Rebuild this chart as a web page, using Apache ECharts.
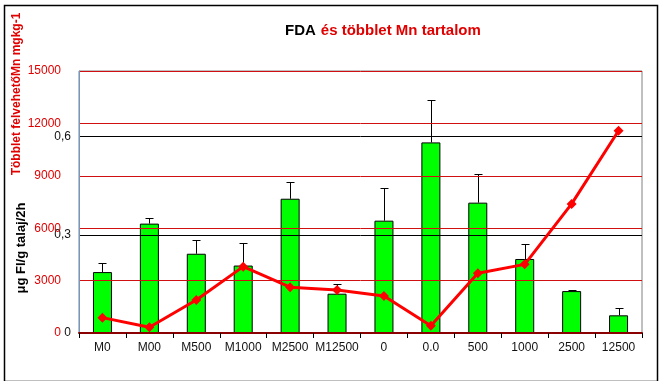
<!DOCTYPE html>
<html>
<head>
<meta charset="utf-8">
<script src="https://cdn.jsdelivr.net/npm/echarts@6/dist/echarts.min.js"></script>
<style>
html,body{margin:0;padding:0;background:#fff;}
#chart{width:660px;height:381px;}
</style>
</head>
<body>
<div id="chart"></div>
<script>
var categories = ['M0','M00','M500','M1000','M2500','M12500','0','0.0','500','1000','2500','12500'];
var fdaValues = [0.186,0.334,0.242,0.206,0.410,0.120,0.343,0.582,0.398,0.226,0.128,0.054];
var fdaErrors = [0.028,0.018,0.043,0.069,0.050,0.029,0.101,0.129,0.088,0.046,0.003,0.022];
var mnValues = [880,330,1890,3800,2620,2460,2120,420,3420,3930,7390,11580];
var mnTicks = [0,3000,6000,9000,12000,15000];
var fdaTicks = [0,0.3,0.6];

var FONT = '"Liberation Sans", Arial, sans-serif';
var chart = echarts.init(document.getElementById('chart'), null, {renderer:'canvas'});

var errData = fdaValues.map(function(v,i){ return [i, v, v + fdaErrors[i]]; });

var option = {
  animation: false,
  backgroundColor: '#ffffff',
  textStyle: {fontFamily: FONT},
  title: {
    left: 280, top: 17,
    text: '{a|FDA} {b|és többlet Mn tartalom}',
    textStyle: {
      rich: {
        a: {fontFamily: FONT, fontSize: 15, fontWeight: 'bold', color: '#000'},
        b: {fontFamily: FONT, fontSize: 15, fontWeight: 'bold', color: '#e00000'}
      }
    }
  },
  grid: {left: 79, right: 18, top: 71, bottom: 48, show: true, borderColor: '#808080', borderWidth: 1, backgroundColor: 'transparent'},
  xAxis: {
    type: 'category',
    data: categories,
    axisLine: {lineStyle: {color: '#8b0000', width: 2}},
    axisTick: {show: true, length: 5, lineStyle: {color: '#000'}},
    axisLabel: {color: '#111', fontSize: 12, fontFamily: FONT, margin: 9, interval: 0},
    z: 4
  },
  yAxis: [
    {
      type: 'value', position: 'left', min: 0, max: 15000, interval: 3000,
      axisLine: {show: true, lineStyle: {color: '#6f97c8', width: 1}},
      axisTick: {show: false},
      axisLabel: {color: '#e00000', fontSize: 12, fontFamily: FONT, margin: 18,
        formatter: function(v){ return String(v); }},
      splitLine: {show: true, lineStyle: {color: '#d01010', width: 1}},
      z: 3
    },
    {
      type: 'value', position: 'left', min: 0, max: 0.8, interval: 0.3,
      axisLine: {show: false},
      axisTick: {show: false},
      axisLabel: {color: '#111', fontSize: 12, fontFamily: FONT, margin: 8, showMaxLabel: false,
        formatter: function(v){ var r = Math.round(v*10)/10; if (fdaTicks.indexOf(r) < 0) return ''; return String(r).replace('.', ','); }},
      splitLine: {show: false}
    }
  ],
  graphic: [
    {type: 'rect', left: 2, top: 3, shape: {width: 653, height: 376}, style: {fill: 'none', stroke: '#000', lineWidth: 1.5}, silent: true},
    {type: 'text', x: 17, y: 94, rotation: Math.PI/2, style: {text: 'Többlet felvehetőMn mgkg-1', fill: '#e00000', font: 'bold 12px "Liberation Sans", Arial, sans-serif', textAlign: 'center', textVerticalAlign: 'middle'}},
    {type: 'text', x: 21, y: 248, rotation: Math.PI/2, style: {text: 'μg Fl/g talaj/2h', fill: '#000', font: 'bold 13px "Liberation Sans", Arial, sans-serif', textAlign: 'center', textVerticalAlign: 'middle'}}
  ],
  series: [
    {
      type: 'bar', name: 'FDA', yAxisIndex: 1, data: fdaValues, barWidth: 19, z: 2,
      itemStyle: {color: '#00ff00', borderColor: '#000', borderWidth: 1},
      markLine: {
        silent: true, symbol: 'none', z: 3,
        label: {show: false},
        lineStyle: {color: '#000', type: 'solid', width: 1},
        data: [{yAxis: 0.3}, {yAxis: 0.6}]
      }
    },
    {
      type: 'custom', name: 'err', yAxisIndex: 1, data: errData, z: 2,
      renderItem: function(params, api){
        var x = api.value(0);
        var top = api.coord([x, api.value(2)]);
        var base = api.coord([x, api.value(1)]);
        var cx = Math.round(top[0]) + 0.5;
        var ty = Math.round(top[1]) + 0.5;
        return {type: 'group', children: [
          {type: 'line', shape: {x1: cx, y1: ty, x2: cx, y2: base[1]}, style: {stroke: '#000', lineWidth: 1}},
          {type: 'line', shape: {x1: cx - 4, y1: ty, x2: cx + 4, y2: ty}, style: {stroke: '#000', lineWidth: 1}}
        ]};
      }
    },
    {
      type: 'line', name: 'Mn', yAxisIndex: 0, data: mnValues, z: 5,
      symbol: 'diamond', symbolSize: 10,
      lineStyle: {color: '#ff0000', width: 3},
      itemStyle: {color: '#ff0000'}
    }
  ]
};
chart.setOption(option);
</script>
</body>
</html>
